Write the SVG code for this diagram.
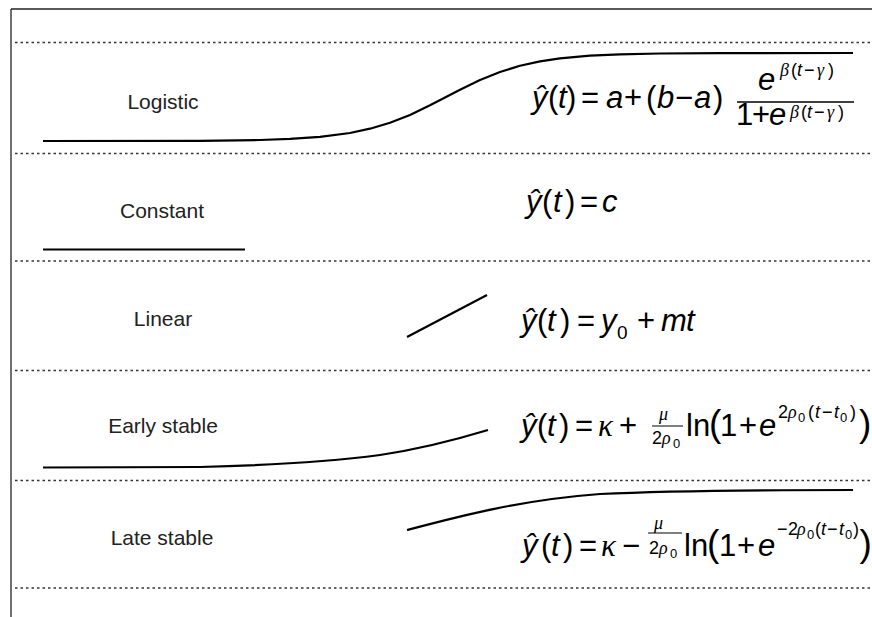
<svg xmlns="http://www.w3.org/2000/svg" width="872" height="617" viewBox="0 0 872 617">
<style>
.frame{stroke:#222;stroke-width:1.3;fill:none}
.dot{stroke:#333;stroke-width:1.3;stroke-dasharray:2.5 3;fill:none}
.curve{fill:none;stroke:#000;stroke-width:2.2;stroke-linejoin:round}
.lbl{font-family:"Liberation Sans",Arial,sans-serif;font-size:21px;fill:#222;text-anchor:middle}
.m{font-family:"Liberation Sans",Arial,sans-serif;font-size:31px;fill:#000}
.i{font-style:italic}
.g{font-family:"Liberation Serif","Times New Roman",serif;font-style:italic}
.sup{font-size:18px}
.sub{font-size:13px}
.big{font-size:37px}
.bar{stroke:#000;stroke-width:1.3}
</style>
<rect width="872" height="617" fill="#fff"/>
<g id="frame">
<line class="frame" x1="11" y1="9" x2="872" y2="9"/>
<line class="frame" x1="11" y1="9" x2="11" y2="617"/>
</g>
<g id="separators">
<line class="dot" x1="15" y1="42.5" x2="872" y2="42.5"/>
<line class="dot" x1="15" y1="153.5" x2="872" y2="153.5"/>
<line class="dot" x1="15" y1="261" x2="872" y2="261"/>
<line class="dot" x1="15" y1="370.5" x2="872" y2="370.5"/>
<line class="dot" x1="15" y1="480.5" x2="872" y2="480.5"/>
<line class="dot" x1="15" y1="588" x2="872" y2="588"/>
</g>
<g id="logistic">
<text class="lbl" x="163" y="109">Logistic</text>
<polyline class="curve" points="43,141 200,140.8 260,140 290,138.9 320,136.9 350,133 370,128.7 390,122.7 410,114.9 430,105.3 446,97 460,89.7 480,80 500,72 520,65.8 540,61.4 560,58.4 590,55.7 620,54.4 660,53.5 720,53.1 853,53"/>
<text class="m" y="108"><tspan class="i" x="532">ŷ</tspan><tspan x="548">(</tspan><tspan class="i" x="558">t</tspan><tspan x="566">)</tspan><tspan x="581">=</tspan><tspan class="i" x="606">a</tspan><tspan x="624">+</tspan><tspan x="646">(</tspan><tspan class="i" x="657">b</tspan><tspan x="675">−</tspan><tspan class="i" x="694">a</tspan><tspan x="713">)</tspan></text>
<line class="bar" x1="737" y1="102" x2="854" y2="102"/>
<text class="m" y="90"><tspan class="i" x="758">e</tspan><tspan class="sup" y="76"><tspan class="g" x="780">β</tspan><tspan x="791">(</tspan><tspan class="i" x="797">t</tspan><tspan x="804">−</tspan><tspan class="g" x="817">γ</tspan><tspan x="828">)</tspan></tspan></text>
<text class="m" y="125"><tspan x="736">1</tspan><tspan x="752">+</tspan><tspan class="i" x="769">e</tspan><tspan class="sup" y="118"><tspan class="g" x="790">β</tspan><tspan x="801">(</tspan><tspan class="i" x="807">t</tspan><tspan x="814">−</tspan><tspan class="g" x="827">γ</tspan><tspan x="838">)</tspan></tspan></text>
</g>
<g id="constant">
<text class="lbl" x="162" y="218">Constant</text>
<line class="curve" x1="43" y1="249.5" x2="245" y2="249.5"/>
<text class="m" y="212"><tspan class="i" x="526">ŷ</tspan><tspan x="542">(</tspan><tspan class="i" x="553">t</tspan><tspan x="565">)</tspan><tspan x="580">=</tspan><tspan class="i" x="602">c</tspan></text>
</g>
<g id="linear">
<text class="lbl" x="163" y="326">Linear</text>
<line class="curve" x1="407" y1="337" x2="487" y2="295"/>
<text class="m" y="331"><tspan class="i" x="601">y</tspan><tspan x="617" y="339" style="font-size:19px">0</tspan><tspan x="637" y="331">+</tspan><tspan class="i" x="661">m</tspan><tspan class="i" x="686">t</tspan></text>
<text class="m" y="331"><tspan class="i" x="521">ŷ</tspan><tspan x="537">(</tspan><tspan class="i" x="547">t</tspan><tspan x="560">)</tspan><tspan x="577">=</tspan></text>
</g>
<g id="early-stable">
<text class="lbl" x="163" y="433">Early stable</text>
<path class="curve" d="M43,467.5 L200,467 C260,465.5 330,461.5 380,455 C420,449 455,440 488,430"/>
<text class="m" y="436"><tspan class="i" x="521">ŷ</tspan><tspan x="537">(</tspan><tspan class="i" x="547">t</tspan><tspan x="559">)</tspan><tspan x="575">=</tspan><tspan class="g" x="598">κ</tspan><tspan x="619">+</tspan><tspan x="686">ln</tspan><tspan class="big" x="709">(</tspan><tspan x="720">1</tspan><tspan x="739">+</tspan><tspan class="i" x="759">e</tspan><tspan class="big" x="859">)</tspan></text>
<text class="m sup" y="420"><tspan class="g" x="659">μ</tspan></text>
<line class="bar" x1="652" y1="426" x2="683" y2="426" style="stroke-width:1"/>
<text class="m sup" y="444"><tspan x="652">2</tspan><tspan class="g" x="662">ρ</tspan><tspan class="sub" x="673" y="448">0</tspan></text>
<text class="m sup" y="418"><tspan x="778">2</tspan><tspan class="g" x="788">ρ</tspan><tspan class="sub" x="798" y="422">0</tspan><tspan x="808" y="418">(</tspan><tspan class="i" x="815">t</tspan><tspan x="822">−</tspan><tspan class="i" x="834">t</tspan><tspan class="sub" x="840" y="422">0</tspan><tspan x="850" y="418">)</tspan></text>
</g>
<g id="late-stable">
<text class="lbl" x="162" y="545">Late stable</text>
<path class="curve" d="M407,530 C460,516 520,500 600,494 C680,490 780,490 853,490"/>
<text class="m" y="556"><tspan class="i" x="522">ŷ</tspan><tspan x="541">(</tspan><tspan class="i" x="551">t</tspan><tspan x="563">)</tspan><tspan x="579">=</tspan><tspan class="g" x="601">κ</tspan><tspan x="622">−</tspan><tspan x="684">ln</tspan><tspan class="big" x="707">(</tspan><tspan x="719">1</tspan><tspan x="737">+</tspan><tspan class="i" x="758">e</tspan><tspan class="big" x="859.5">)</tspan></text>
<text class="m sup" y="529"><tspan class="g" x="654">μ</tspan></text>
<line class="bar" x1="648" y1="533" x2="682" y2="533" style="stroke-width:1"/>
<text class="m sup" y="554"><tspan x="649">2</tspan><tspan class="g" x="659">ρ</tspan><tspan class="sub" x="670" y="558">0</tspan></text>
<text class="m sup" y="535"><tspan x="777">−</tspan><tspan x="788">2</tspan><tspan class="g" x="797">ρ</tspan><tspan class="sub" x="807" y="539">0</tspan><tspan x="815" y="535">(</tspan><tspan class="i" x="821">t</tspan><tspan x="827">−</tspan><tspan class="i" x="839">t</tspan><tspan class="sub" x="845" y="539">0</tspan><tspan x="853" y="535">)</tspan></text>
</g>
</svg>
